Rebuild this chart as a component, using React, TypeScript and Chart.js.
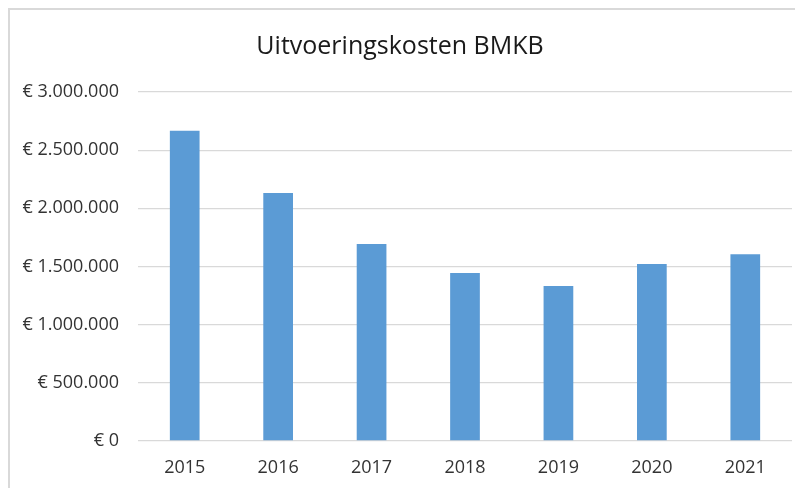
import React, { useEffect, useRef } from "react";
import { Chart, registerables } from "chart.js";

Chart.register(...registerables);

const title = "Uitvoeringskosten BMKB";
const years = ["2015", "2016", "2017", "2018", "2019", "2020", "2021"];
const costs = [2667000, 2132000, 1693000, 1444000, 1332000, 1521000, 1605000];
const yMin = 0;
const yMax = 3000000;
const yStep = 500000;

const fmt = (v: number) =>
  v === 0 ? "€ 0" : "€ " + Math.round(v).toString().replace(/\B(?=(\d{3})+(?!\d))/g, ".");

export default function App() {
  const ref = useRef<HTMLCanvasElement | null>(null);

  useEffect(() => {
    if (!ref.current) return;
    const font = "'Open Sans', 'DejaVu Sans', sans-serif";
    const chart = new Chart(ref.current, {
      type: "bar",
      data: {
        labels: years,
        datasets: [
          {
            data: costs,
            backgroundColor: "#5B9BD5",
            borderWidth: 0,
            categoryPercentage: 1,
            barPercentage: 0.318,
          },
        ],
      },
      options: {
        animation: false,
        responsive: false,
        maintainAspectRatio: false,
        layout: { padding: { left: 0, right: 11, top: 0, bottom: 9 } },
        plugins: {
          legend: { display: false },
          tooltip: { enabled: false },
          title: {
            display: true,
            text: title,
            color: "#1a1a1a",
            font: { family: font, size: 25, weight: "normal", lineHeight: 1.2 },
            padding: { top: 24, bottom: 30 },
          },
        },
        scales: {
          x: {
            afterFit: (s: any) => {
              s.height = 38;
            },
            grid: { display: false, drawTicks: false },
            border: { display: false },
            ticks: {
              color: "#333",
              padding: 16,
              font: { family: font, size: 18, lineHeight: 1.2 },
            },
          },
          y: {
            min: yMin,
            max: yMax,
            afterFit: (s: any) => {
              s.width = 130;
            },
            grid: { color: "#d9d9d9", lineWidth: 1.3, drawTicks: false },
            border: { display: false },
            ticks: {
              stepSize: yStep,
              color: "#333",
              padding: 19,
              font: { family: font, size: 18, lineHeight: 1.2 },
              callback: (v: any) => fmt(Number(v)),
            },
          },
        },
      },
    });
    return () => chart.destroy();
  }, []);

  return (
    <div style={{ position: "relative", width: 795, height: 480 }}>
      <canvas
        ref={ref}
        width={795}
        height={480}
        style={{ position: "absolute", left: 0, top: 0, width: 795, height: 480 }}
      />
      <div
        style={{
          position: "absolute",
          left: 0,
          top: 0,
          width: 795,
          height: 480,
          borderTop: "2px solid #d9d9d9",
          borderLeft: "2px solid #d9d9d9",
          boxSizing: "border-box",
          pointerEvents: "none",
        }}
      />
    </div>
  );
}
